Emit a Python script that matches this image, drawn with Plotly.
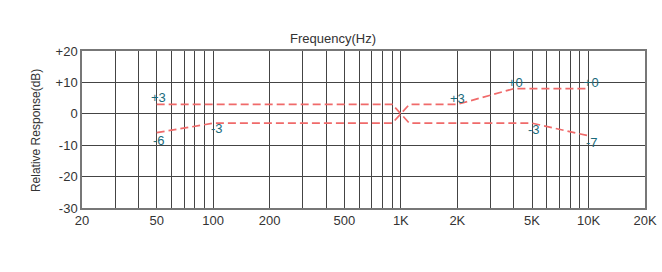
import math
import plotly.graph_objects as go

# Data
freq_a = [50, 900, 1110, 5000, 10000]
resp_a = [3, 3, -3, -3, -7]
freq_b = [50, 100, 900, 1110, 2000, 4000, 10000]
resp_b = [-6, -3, -3, 3, 3, 8, 8]

label_freq = [50, 50, 100, 2000, 4000, 10000, 5000, 10000]
label_val = [3, -6, -3, 3, 8, 8, -3, -7]
label_text = ["+3", "-6", "-3", "+3", "+0", "+0", "-3", "-7"]

grid_freqs = ([20, 30, 40, 50, 60, 70, 80, 90] +
              [100, 200, 300, 400, 500, 600, 700, 800, 900] +
              [1000, 2000, 3000, 4000, 5000, 6000, 7000, 8000, 9000] +
              [10000, 20000])
x_labels = {20: "20", 50: "50", 100: "100", 200: "200", 500: "500",
            1000: "1K", 2000: "2K", 5000: "5K", 10000: "10K", 20000: "20K"}
y_ticks = [20, 10, 0, -10, -20, -30]
y_ticktext = ["+20", "+10", "0", "-10", "-20", "-30"]

# Label offsets (pixels): xshift, yshift
offsets = [(2, 7), (2, -8), (4, -5), (0, 6), (2, 6), (3, 6), (2, -6), (3, -7)]

FONT = "Liberation Sans, Arial"

fig = go.Figure()
line_style = dict(color="#f06a6a", width=1.7, dash="8px,4px")
fig.add_trace(go.Scatter(x=freq_a, y=resp_a, mode="lines", line=line_style, hoverinfo="skip"))
fig.add_trace(go.Scatter(x=freq_b, y=resp_b, mode="lines", line=line_style, hoverinfo="skip"))

for f, v, t, (dx, dy) in zip(label_freq, label_val, label_text, offsets):
    fig.add_annotation(x=math.log10(f), y=v, xref="x", yref="y", text=t, showarrow=False,
                       xshift=dx, yshift=dy,
                       font=dict(family=FONT, size=13, color="#1a6b7c"))

fig.add_annotation(x=0.446, y=1, xref="paper", yref="paper", text="Frequency(Hz)",
                   showarrow=False, yshift=13, yanchor="middle",
                   font=dict(family=FONT, size=13, color="#333"))
fig.add_annotation(x=0, y=0.49, xref="paper", yref="paper", text="Relative Response(dB)",
                   showarrow=False, textangle=-90, xshift=-46, xanchor="center",
                   font=dict(family=FONT, size=12, color="#333"))

fig.update_xaxes(type="log", range=[math.log10(20), math.log10(20000)],
                 tickvals=grid_freqs, ticktext=[x_labels.get(f, "") for f in grid_freqs],
                 showgrid=True, gridcolor="#444", gridwidth=1, ticks="",
                 showline=True, linecolor="#777", linewidth=1.5, mirror=True,
                 tickfont=dict(family=FONT, size=13, color="#333"),
                 zeroline=False, automargin=False)
fig.update_yaxes(range=[-30, 20], tickvals=y_ticks, ticktext=y_ticktext,
                 showgrid=True, gridcolor="#444", gridwidth=1, ticks="",
                 showline=True, linecolor="#777", linewidth=1.5, mirror=True,
                 tickfont=dict(family=FONT, size=13, color="#333"),
                 zeroline=False, automargin=False)

fig.update_layout(width=662, height=272, margin=dict(l=82, r=17, t=51, b=64),
                  paper_bgcolor="white", plot_bgcolor="white", showlegend=False)

fig.write_html("out.html")
